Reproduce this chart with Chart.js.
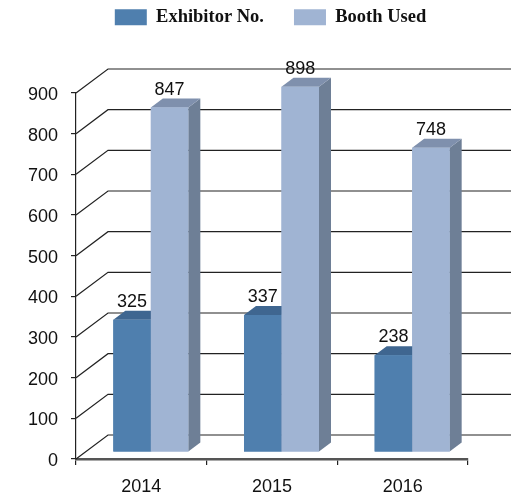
<!DOCTYPE html>
<html>
<head>
<meta charset="utf-8">
<style>
  html, body { margin: 0; padding: 0; background: #fff; }
  #wrap { position: relative; width: 511px; height: 496px; }
</style>
<script src="https://cdn.jsdelivr.net/npm/chart.js@4"></script>
</head>
<body>
<div id="wrap"><canvas id="myChart" width="511" height="496"></canvas></div>
<script>
// Chart data
const years = ['2014', '2015', '2016'];
const exhibitorNo = [325, 337, 238];
const boothUsed = [847, 898, 748];
const yTicks = [0, 100, 200, 300, 400, 500, 600, 700, 800, 900];

// Fake 3D look: how far the wall sits behind the axis, where the bars stand, bar depth
const wallDx = 32, wallDy = -24;
const barDx = 9.5, barDy = -7;
const depthX = 12, depthY = -9;

// Back wall lines, drawn before the bars
const wallGrid = {
    id: 'wallGrid',
    beforeInit(chart) {
        // keep the plot top clear of the legend, and nudge the legend left a little
        const legendFit = chart.legend.fit;
        chart.legend.fit = function () {
            legendFit.call(this);
            this.height = 115;
            this.lineWidths = this.lineWidths.map((w) => w + 3);
        };
    },
    beforeDatasetsDraw(chart) {
        const { ctx, scales } = chart;
        ctx.save();
        ctx.strokeStyle = '#222';
        ctx.lineWidth = 1.2;
        yTicks.forEach((tick) => {
            const x = scales.y.right;
            const y = scales.y.getPixelForValue(tick);
            ctx.beginPath();
            ctx.moveTo(x, y);
            ctx.lineTo(x + wallDx, y + wallDy);
            ctx.lineTo(511, y + wallDy);
            ctx.stroke();
        });
        ctx.restore();
        // bars stand a bit inside the floor
        ctx.save();
        ctx.translate(barDx, barDy);
    },
    afterDatasetsDraw(chart) {
        const { ctx } = chart;
        // side and top faces of each bar
        chart.data.datasets.forEach((dataset, i) => {
            chart.getDatasetMeta(i).data.forEach((bar) => {
                const left = bar.x - bar.width / 2;
                const right = bar.x + bar.width / 2;
                ctx.fillStyle = dataset.sideColor;
                ctx.beginPath();
                ctx.moveTo(right, bar.y);
                ctx.lineTo(right + depthX, bar.y + depthY);
                ctx.lineTo(right + depthX, bar.base + depthY);
                ctx.lineTo(right, bar.base);
                ctx.closePath();
                ctx.fill();
                ctx.fillStyle = dataset.topColor;
                ctx.beginPath();
                ctx.moveTo(left, bar.y);
                ctx.lineTo(left + depthX, bar.y + depthY);
                ctx.lineTo(right + depthX, bar.y + depthY);
                ctx.lineTo(right, bar.y);
                ctx.closePath();
                ctx.fill();
            });
        });
        // front faces go back on top of the neighbour's side face
        chart.data.datasets.forEach((dataset, i) => {
            chart.getDatasetMeta(i).data.forEach((bar) => bar.draw(ctx));
        });
        // value labels
        ctx.fillStyle = '#111';
        ctx.font = '18px "Liberation Sans"';
        ctx.textAlign = 'center';
        ctx.textBaseline = 'middle';
        chart.data.datasets.forEach((dataset, i) => {
            chart.getDatasetMeta(i).data.forEach((bar, j) => {
                ctx.fillText(dataset.data[j], bar.x, bar.y - 18);
            });
        });
        ctx.restore();
    }
};

const ctx = document.getElementById('myChart').getContext('2d');
const myChart = new Chart(ctx, {
    type: 'bar',
    data: {
        labels: years,
        datasets: [
            {
                label: 'Exhibitor No.',
                data: exhibitorNo,
                backgroundColor: '#4f7fae',
                sideColor: '#3f6690',
                topColor: '#3f6690'
            },
            {
                label: 'Booth Used',
                data: boothUsed,
                backgroundColor: '#a0b4d3',
                sideColor: '#6e7f96',
                topColor: '#7f90ad'
            }
        ]
    },
    options: {
        responsive: false,
        animation: false,
        layout: { padding: { left: 16, right: 43, top: -22, bottom: 0 } },
        datasets: { bar: { categoryPercentage: 0.574, barPercentage: 1 } },
        plugins: {
            tooltip: { enabled: false },
            legend: {
                position: 'top',
                fullSize: false,
                onClick: null,
                labels: {
                    boxWidth: 32,
                    boxHeight: 16,
                    padding: 30,
                    color: '#111',
                    font: { family: '"Liberation Serif"', size: 18.5, weight: 'bold' }
                }
            }
        },
        scales: {
            x: {
                afterFit: (scale) => { scale.height = 37; },
                border: { color: '#555', width: 2.5 },
                grid: { drawOnChartArea: false, color: '#222', tickLength: 6, lineWidth: 1.2 },
                ticks: { color: '#111', padding: 11, font: { family: '"Liberation Sans"', size: 18 } }
            },
            y: {
                min: 0,
                max: 900,
                afterFit: (scale) => { scale.width = 60; },
                afterBuildTicks: (scale) => { scale.ticks = yTicks.map((value) => ({ value })); },
                border: { color: '#222', width: 1.2 },
                grid: { drawOnChartArea: false, color: '#222', tickLength: 5, lineWidth: 1.2 },
                ticks: { color: '#111', padding: 13, labelOffset: 2, font: { family: '"Liberation Sans"', size: 18 } }
            }
        }
    },
    plugins: [wallGrid]
});
</script>
</body>
</html>
